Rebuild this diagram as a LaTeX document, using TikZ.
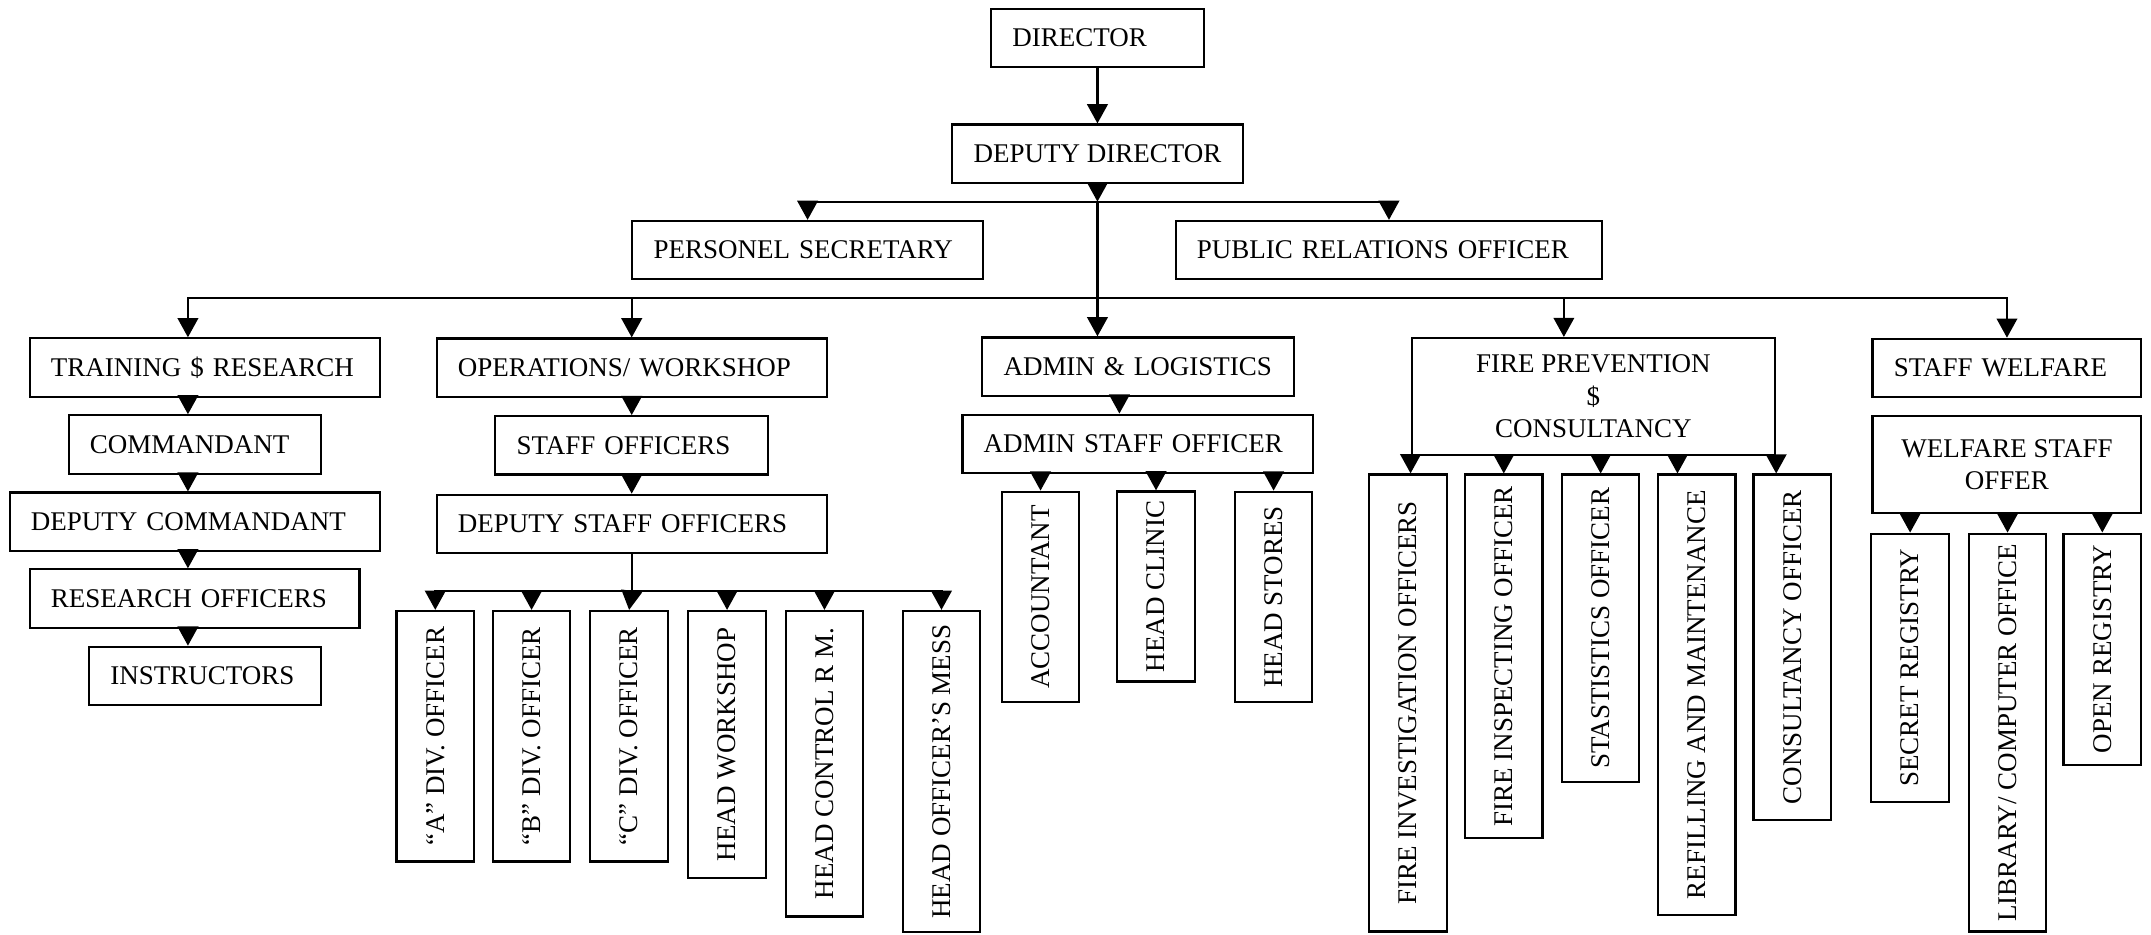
\documentclass[tikz,border=0pt]{standalone}
\usepackage{fontspec}
\setmainfont{Liberation Serif}
\usetikzlibrary{arrows.meta}

\tikzset{
  box/.style={draw, line width=0.9pt, inner ysep=0pt, font=\fontsize{11.2}{13.4}\selectfont},
  hbox/.style={box, align=left, inner xsep=0.31cm, text width=#1, minimum height=0.85cm},
  vbox/.style={box, rotate=90, inner xsep=0.1cm, minimum width=#1, minimum height=1.13cm},
  arr/.style={line width=0.9pt, -{Triangle[length=0.28cm,width=0.3cm]}},
  plain/.style={line width=0.9pt}
}

\begin{document}
\begin{tikzpicture}[x=0.02cm, y=-0.02cm]
\useasboundingbox (0,0) rectangle (1568,681);

% Spitze:
\node[hbox=2.48cm] (director) at (800,27.6) {DIRECTOR};
\node[box, minimum width=4.24cm, minimum height=0.85cm] (deputy) at (800,112) {DEPUTY DIRECTOR};
\node[hbox=4.49cm] (ps) at (588.7,182.3) {PERSONEL SECRETARY};
\node[hbox=5.60cm] (pr) at (1012.5,182.3) {PUBLIC RELATIONS OFFICER};

% Abteilungen:
\node[hbox=4.49cm] (training) at (149.3,267.9) {TRAINING \$ RESEARCH};
\node[hbox=5.07cm] (ops) at (460.5,268) {OPERATIONS/ WORKSHOP};
\node[hbox=3.92cm] (admin) at (829.5,267.2) {ADMIN \& LOGISTICS};
\node[box, align=center, minimum width=5.30cm, minimum height=1.70cm] (fire) at (1161.5,288.9) {FIRE PREVENTION\\ \$\\ CONSULTANCY};
\node[hbox=3.30cm] (welfare) at (1463,268.2) {STAFF WELFARE};

% Training:
\node[hbox=3.06cm] (comm) at (142,324) {COMMANDANT};
\node[hbox=4.78cm] (depcomm) at (142,380.3) {DEPUTY COMMANDANT};
\node[hbox=4.19cm] (research) at (141.8,436.3) {RESEARCH OFFICERS};
\node[hbox=2.76cm] (instr) at (149.5,492.7) {INSTRUCTORS};

% Operations:
\node[hbox=3.36cm] (staff) at (460.5,324.6) {STAFF OFFICERS};
\node[hbox=5.07cm] (depstaff) at (460.5,381.9) {DEPUTY STAFF OFFICERS};
\node[vbox=3.654cm] (adiv) at (317.3,536.7) {“A” DIV. OFFICER};
\node[vbox=3.654cm] (bdiv) at (387.5,536.7) {“B” DIV. OFFICER};
\node[vbox=3.654cm] (cdiv) at (458.6,536.7) {“C” DIV. OFFICER};
\node[vbox=3.894cm] (hws) at (530,542.7) {HEAD WORKSHOP};
\node[vbox=4.454cm] (hcr) at (601,556.7) {HEAD CONTROL R M.};
\node[vbox=4.684cm] (hom) at (686.3,562.4) {HEAD OFFICER'S MESS};

% Admin:
\node[hbox=4.49cm] (adminstaff) at (829.3,323.5) {ADMIN STAFF OFFICER};
\node[vbox=3.072cm] (acc) at (758.5,435.2) {ACCOUNTANT};
\node[vbox=2.772cm] (clinic) at (842.7,427.5) {HEAD CLINIC};
\node[vbox=3.072cm] (stores) at (928.4,435.2) {HEAD STORES};

% Fire prevention:
\node[vbox=6.664cm] (finv) at (1026.3,512.4) {FIRE INVESTIGATION OFFICERS};
\node[vbox=5.30cm] (finsp) at (1096.2,478.4) {FIRE INSPECTING OFFICER};
\node[vbox=4.48cm] (stat) at (1166.8,457.9) {STASTISTICS OFFICER};
\node[vbox=6.42cm] (refill) at (1236.8,506.4) {REFILLING AND MAINTENANCE};
\node[vbox=5.04cm] (cons) at (1306.5,471.9) {CONSULTANCY OFFICER};

% Welfare:
\node[box, align=center, minimum width=3.92cm, minimum height=1.41cm] (wstaff) at (1463,338.7) {WELFARE STAFF\\ OFFER};
\node[vbox=3.912cm] (secret) at (1392.4,486.8) {SECRET REGISTRY};
\node[vbox=5.80cm] (library) at (1463.4,534) {LIBRARY/ COMPUTER OFFICE};
\node[vbox=3.37cm] (openreg) at (1532.5,473.2) {OPEN REGISTRY};

% Knoten der Linien:
\coordinate (j1) at (800,147);
\coordinate (j2) at (800,217.5);
\coordinate (j3) at (460.5,430.8);
\coordinate (tcol) at (137,0);
\coordinate (acol) at (816,0);
\coordinate (fcol) at (1140,0);
\coordinate (rcol) at ([xshift=-0.28cm]refill.east);

% obere Ebene:
\draw[arr] (director) -- (deputy);
\draw[arr] (deputy) -- (j1);
\draw[arr] (j1) -| (ps.north);
\draw[arr] (j1) -| (pr.north);
\draw[arr] (j1) -- (j1 |- admin.north);
\draw[arr] (j2) -| (tcol |- training.north);
\draw[arr] (j2) -| (ops.north);
\draw[arr] (j2) -| (fcol |- fire.north);
\draw[arr] (j2) -| (welfare.north);

% Training:
\draw[arr] (tcol |- training.south) -- (tcol |- comm.north);
\draw[arr] (tcol |- comm.south) -- (tcol |- depcomm.north);
\draw[arr] (tcol |- depcomm.south) -- (tcol |- research.north);
\draw[arr] (tcol |- research.south) -- (tcol |- instr.north);

% Operations:
\draw[arr] (ops) -- (staff);
\draw[arr] (staff) -- (depstaff);
\draw[plain] (depstaff) -- (j3);
\draw[arr] (j3) -| (adiv.east);
\draw[arr] (j3) -| (bdiv.east);
\draw[arr] (j3) -- (cdiv.east);
\draw[arr] (j3) -| (hws.east);
\draw[arr] (j3) -| (hcr.east);
\draw[arr] (j3) -| (hom.east);

% Admin:
\draw[arr] (acol |- admin.south) -- (acol |- adminstaff.north);
\draw[arr] (adminstaff.south -| acc.east) -- (acc.east);
\draw[arr] (adminstaff.south -| clinic.east) -- (clinic.east);
\draw[arr] (adminstaff.south -| stores.east) -- (stores.east);

% Fire prevention:
\draw[arr] (fire.south west) -- (fire.south west |- finv.east);
\draw[arr] (fire.south -| finsp.east) -- (finsp.east);
\draw[arr] (fire.south -| stat.east) -- (stat.east);
\draw[arr] (fire.south -| rcol) -- (rcol);
\draw[arr] (fire.south east) -- (fire.south east |- cons.east);

% Welfare:
\draw[arr] (wstaff.south -| secret.east) -- (secret.east);
\draw[arr] (wstaff.south -| library.east) -- (library.east);
\draw[arr] (wstaff.south -| openreg.east) -- (openreg.east);
\end{tikzpicture}
\end{document}
